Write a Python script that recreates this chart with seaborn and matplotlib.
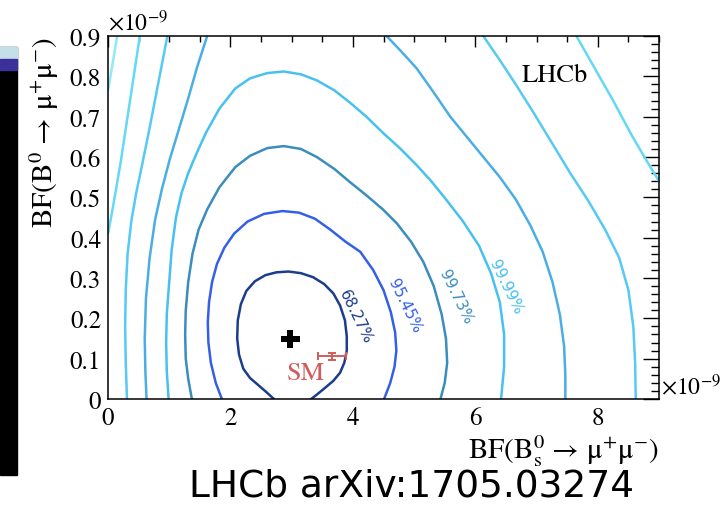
import numpy as np
import pandas as pd
import matplotlib
matplotlib.use("Agg")
import matplotlib.pyplot as plt
import matplotlib.patches as mpatches
from matplotlib.ticker import MultipleLocator, FixedLocator
import seaborn as sns

# ---- digitised confidence-level contours (units of 1e-9) ----
c68_x = [2.71, 2.58, 2.45, 2.32, 2.21, 2.14, 2.11, 2.12, 2.17, 2.26, 2.40, 2.57, 2.75, 2.95, 3.15, 3.35, 3.53, 3.68, 3.79, 3.87, 3.90, 3.90, 3.86, 3.79, 3.68, 3.54, 3.42, 3.32]
c68_y = [0.0, 0.018, 0.035, 0.052, 0.075, 0.11, 0.15, 0.195, 0.235, 0.268, 0.292, 0.307, 0.314, 0.316, 0.312, 0.302, 0.285, 0.262, 0.232, 0.195, 0.155, 0.12, 0.09, 0.065, 0.045, 0.027, 0.012, 0.0]

c95_x = [1.86, 1.76, 1.68, 1.64, 1.63, 1.65, 1.70, 1.78, 1.90, 2.06, 2.28, 2.55, 2.85, 3.12, 3.38, 3.63, 3.88, 4.12, 4.33, 4.50, 4.62, 4.69, 4.71, 4.68, 4.61, 4.51]
c95_y = [0.0, 0.04, 0.09, 0.14, 0.19, 0.24, 0.29, 0.335, 0.375, 0.41, 0.44, 0.459, 0.466, 0.462, 0.447, 0.42, 0.39, 0.365, 0.32, 0.27, 0.215, 0.165, 0.12, 0.08, 0.04, 0.0]

c997_x = [1.37, 1.31, 1.27, 1.26, 1.27, 1.31, 1.38, 1.48, 1.62, 1.82, 2.08, 2.32, 2.60, 2.87, 3.15, 3.41, 3.70, 3.95, 4.22, 4.49, 4.72, 4.95, 5.15, 5.32, 5.45, 5.52, 5.54, 5.50, 5.43]
c997_y = [0.0, 0.05, 0.10, 0.16, 0.22, 0.29, 0.36, 0.42, 0.47, 0.525, 0.575, 0.603, 0.622, 0.627, 0.62, 0.60, 0.57, 0.538, 0.505, 0.47, 0.435, 0.39, 0.34, 0.28, 0.21, 0.15, 0.09, 0.04, 0.0]

c9999_x = [0.99, 0.96, 0.95, 0.96, 1.00, 1.04, 1.11, 1.20, 1.31, 1.45, 1.60, 1.82, 2.08, 2.32, 2.60, 2.87, 3.15, 3.41, 3.70, 3.95, 4.22, 4.49, 4.78, 5.04, 5.28, 5.52, 5.80, 6.06, 6.26, 6.40, 6.47, 6.47, 6.42]
c9999_y = [0.0, 0.07, 0.14, 0.21, 0.29, 0.37, 0.45, 0.51, 0.56, 0.61, 0.66, 0.72, 0.77, 0.795, 0.808, 0.812, 0.805, 0.79, 0.765, 0.735, 0.70, 0.66, 0.62, 0.58, 0.54, 0.495, 0.44, 0.38, 0.31, 0.24, 0.16, 0.08, 0.0]

c5_left_x = [1.62, 1.45, 1.31, 1.15, 1.01, 0.88, 0.77, 0.68, 0.62, 0.60, 0.61, 0.63]
c5_left_y = [0.9, 0.82, 0.745, 0.665, 0.595, 0.52, 0.445, 0.35, 0.25, 0.15, 0.07, 0.0]
c5_right_x = [4.55, 4.80, 5.04, 5.32, 5.59, 5.86, 6.13, 6.40, 6.66, 6.90, 7.10, 7.26, 7.38, 7.45, 7.47, 7.47]
c5_right_y = [0.9, 0.86, 0.82, 0.76, 0.70, 0.65, 0.60, 0.55, 0.495, 0.43, 0.365, 0.29, 0.21, 0.13, 0.06, 0.0]

c6_left_x = [0.97, 0.83, 0.69, 0.57, 0.46, 0.38, 0.32, 0.29, 0.28, 0.29, 0.31]
c6_left_y = [0.9, 0.79, 0.68, 0.59, 0.51, 0.44, 0.36, 0.27, 0.18, 0.09, 0.0]
c6_right_x = [6.13, 6.40, 6.66, 6.95, 7.25, 7.55, 7.85, 8.12, 8.35, 8.50, 8.58, 8.61, 8.62]
c6_right_y = [0.9, 0.84, 0.78, 0.71, 0.635, 0.56, 0.49, 0.42, 0.35, 0.27, 0.18, 0.09, 0.0]

c7_left_x = [0.52, 0.42, 0.31, 0.21, 0.12, 0.05, 0.0]
c7_left_y = [0.9, 0.80, 0.69, 0.59, 0.51, 0.45, 0.41]
c7_right_x = [7.65, 7.95, 8.25, 8.55, 8.80, 9.0]
c7_right_y = [0.9, 0.82, 0.74, 0.655, 0.59, 0.54]

c8_x = [0.15, 0.09, 0.04, 0.0]
c8_y = [0.9, 0.845, 0.80, 0.765]

# contour labels
cl_text = ["68.27%", "95.45%", "99.73%", "99.99%"]
cl_x = [4.04, 4.84, 5.68, 6.50]
cl_y = [0.205, 0.233, 0.255, 0.28]

# best fit and SM prediction
best_x = [2.98]
best_y = [0.149]
sm_x = [3.66]
sm_y = [0.106]
sm_xerr = [0.23]
sm_yerr = [0.009]

x_ticks = [0, 2, 4, 6, 8]
y_ticks = [0, 0.1, 0.2, 0.3, 0.4, 0.5, 0.6, 0.7, 0.8, 0.9]
y_ticklabels = ["0", "0.1", "0.2", "0.3", "0.4", "0.5", "0.6", "0.7", "0.8", "0.9"]

colors = {
    "c68": "#1c3c8c",
    "c95": "#3560e6",
    "c997": "#3b8dbd",
    "c9999": "#48c0f0",
    "c5": "#4aaee4",
    "c6": "#56c9f4",
    "c7": "#64d9f4",
    "c8": "#8eeaf6",
}

branches = [
    ("c68", c68_x, c68_y), ("c95", c95_x, c95_y), ("c997", c997_x, c997_y),
    ("c9999", c9999_x, c9999_y), ("c5", c5_left_x, c5_left_y), ("c5", c5_right_x, c5_right_y),
    ("c6", c6_left_x, c6_left_y), ("c6", c6_right_x, c6_right_y),
    ("c7", c7_left_x, c7_left_y), ("c7", c7_right_x, c7_right_y), ("c8", c8_x, c8_y),
]
rows = []
for i, (name, xs, ys) in enumerate(branches):
    for j, (xv, yv) in enumerate(zip(xs, ys)):
        rows.append({"contour": name, "branch": i, "order": j, "x": xv, "y": yv})
df = pd.DataFrame(rows)

sns.set_style("white")
plt.rcParams['font.family'] = ['STIXGeneral', 'DejaVu Serif']
plt.rcParams['mathtext.fontset'] = 'stix'
plt.rcParams['text.color'] = 'black'
plt.rcParams['axes.labelcolor'] = 'black'

fig = plt.figure(figsize=(7.2, 5.06), dpi=100)
fig.patch.set_facecolor("white")

# slide artefact at the left edge
fig.patches.append(mpatches.Rectangle((0, 0.059), 0.0236, 0.846, transform=fig.transFigure, color="black", zorder=0))
fig.patches.append(mpatches.Rectangle((0, 0.881), 0.0236, 0.024, transform=fig.transFigure, color="#c4dfe8", zorder=1))
fig.patches.append(mpatches.Rectangle((0, 0.860), 0.0236, 0.021, transform=fig.transFigure, color="#3b2f9a", zorder=1))

ax = fig.add_axes([0.15, 0.2095, 0.7653, 0.7174])

sns.lineplot(data=df, x="x", y="y", hue="contour", units="branch", estimator=None,
             sort=False, palette=colors, linewidth=1.8, legend=False, ax=ax)

sns.scatterplot(x=best_x, y=best_y, marker="P", s=170, color="black", edgecolor="none", ax=ax, zorder=5)
ax.errorbar(sm_x, sm_y, xerr=sm_xerr, yerr=sm_yerr, fmt="none", ecolor="#d05c5c",
            elinewidth=1.4, capsize=3, capthick=1.4, zorder=5)
ax.text(3.24, 0.065, "SM", color="#d05c5c", fontsize=19, ha="center", va="center")

for t, xv, yv, c in zip(cl_text, cl_x, cl_y, ["c68", "c95", "c997", "c9999"]):
    ax.text(xv, yv, t, color=colors[c], fontsize=11, family="DejaVu Sans",
            rotation=-64, rotation_mode="anchor", ha="center", va="center")

ax.text(7.29, 0.803, "LHCb", fontsize=19, ha="center", va="center", color="black")

ax.set_xlim(0, 9)
ax.set_ylim(0, 0.9)
ax.xaxis.set_major_locator(FixedLocator(x_ticks))
ax.set_xticklabels([str(v) for v in x_ticks])
ax.xaxis.set_minor_locator(MultipleLocator(0.5))
ax.yaxis.set_major_locator(FixedLocator(y_ticks))
ax.set_yticklabels(y_ticklabels)
ax.yaxis.set_minor_locator(MultipleLocator(0.02))

ax.tick_params(which="both", direction="in", top=True, right=True, colors="black", labelsize=18, width=1.0)
ax.tick_params(axis="x", which="major", length=8, pad=5)
ax.tick_params(axis="x", which="minor", length=4)
ax.tick_params(axis="y", which="major", length=11.5, pad=5)
ax.tick_params(axis="y", which="minor", length=5.8)
for s in ax.spines.values():
    s.set_color("black")
    s.set_linewidth(1.1)

ax.set_xlabel(r"BF(B$^{0}_{\mathrm{s}}$ → μ$^{+}$μ$^{-}$)", fontsize=21, loc="right", labelpad=2, color="black")
ax.set_ylabel("BF(B$^{0}$ → μ$^{+}$μ$^{-}$)", fontsize=21, loc="top", labelpad=6, color="black")

ax.text(0.0, 1.005, r"$\times10^{-9}$", transform=ax.transAxes, fontsize=17, ha="left", va="bottom", color="black")
ax.text(1.004, 0.0, r"$\times10^{-9}$", transform=ax.transAxes, fontsize=17, ha="left", va="bottom", color="black")

fig.text(0.572, 0.002, "LHCb arXiv:1705.03274", fontsize=27, family="DejaVu Sans", ha="center", va="bottom", color="black")

fig.savefig("out.png", dpi=100)
